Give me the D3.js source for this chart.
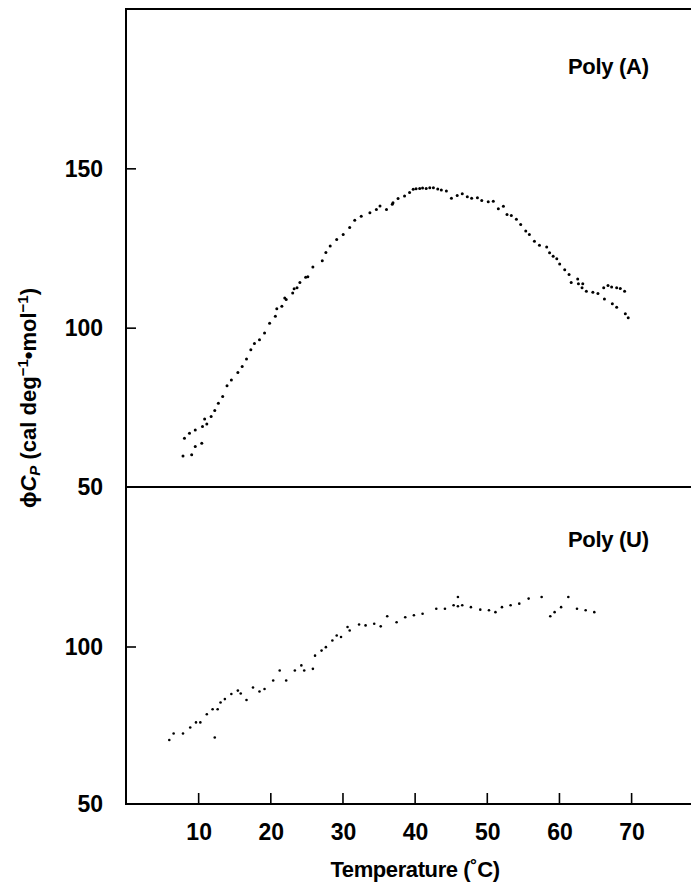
<!DOCTYPE html>
<html>
<head>
<meta charset="utf-8">
<script src="https://cdn.jsdelivr.net/npm/d3@7"></script>
<style>
  html, body { margin: 0; padding: 0; background: #fff; }
  svg text { font-family: "Liberation Sans", Arial, Helvetica, sans-serif; font-weight: bold; fill: #000; }
</style>
</head>
<body>
<svg id="chart" width="691" height="885"></svg>
<script>
// ---- data ----
const xTicks = [10, 20, 30, 40, 50, 60, 70];
const topTicks = [150, 100, 50];
const bottomTicks = [100, 50];
const topLabel = "Poly (A)";
const bottomLabel = "Poly (U)";
const xTitle = "Temperature (˚C)";

const polyA_T = [7.9, 8.1, 8.8, 9.1, 9.6, 9.6, 10.5, 10.6, 10.9, 11.2, 11.8, 12.3, 12.8, 13.4, 14.0, 14.6, 15.5, 16.1, 16.7, 17.3,
  17.8, 18.5, 19.2, 19.9, 20.7, 20.9, 21.6, 22.0, 22.2, 23.1, 23.3, 23.7, 24.1, 24.9, 25.2, 25.9, 27.2, 27.7, 28.3, 29.2,
  30.1, 31.0, 31.7, 32.6, 33.8, 34.7, 35.2, 36.1, 36.9, 37.0, 37.7, 38.6, 39.3, 39.8, 40.2, 40.7, 41.1, 41.6, 42.1, 42.6,
  43.2, 43.7, 44.4, 45.1, 45.9, 46.6, 47.3, 47.9, 48.7, 49.3, 50.2, 50.9, 51.6, 52.3, 52.8, 53.4, 54.1, 54.7, 55.4, 55.9,
  56.6, 57.3, 58.3, 58.7, 59.2, 59.7, 60.1, 60.8, 61.4, 61.7, 62.6, 62.7, 63.2, 63.3, 63.8, 64.7, 65.4, 66.2, 66.3, 66.8,
  67.3, 67.4, 68.0, 68.0, 68.5, 69.1, 69.2, 69.6];
const polyA_Cp = [59.7, 65.3, 66.9, 60.1, 62.7, 67.9, 63.7, 69.0, 71.3, 69.8, 72.1, 74.0, 76.3, 78.4, 81.8, 83.6, 85.9, 87.8, 90.2, 93.1,
  95.0, 96.2, 98.3, 101.4, 103.6, 105.9, 106.7, 109.3, 108.8, 110.9, 112.2, 112.5, 114.2, 115.8, 116.0, 119.0, 121.0, 123.6, 125.6, 127.7,
  129.2, 131.4, 133.7, 135.0, 136.1, 137.1, 138.2, 137.1, 138.7, 139.2, 140.5, 141.3, 142.4, 143.4, 143.6, 143.7, 143.8, 143.7, 143.9, 143.9,
  143.5, 143.2, 142.9, 140.6, 141.5, 142.0, 141.1, 140.6, 140.8, 139.9, 139.5, 139.7, 137.3, 138.1, 135.5, 135.2, 134.0, 132.4, 130.3, 129.2,
  127.1, 125.9, 125.3, 123.5, 122.4, 121.6, 120.0, 118.2, 116.7, 114.2, 115.3, 113.8, 112.5, 113.8, 111.4, 111.1, 110.7, 112.5, 109.0, 113.2,
  112.8, 107.5, 112.5, 106.4, 112.3, 111.4, 104.4, 103.1];

const polyU_T = [6.0, 6.6, 7.9, 8.9, 9.7, 10.3, 11.2, 12.0, 12.3, 12.7, 13.1, 13.7, 14.6, 15.5, 15.9, 16.7, 17.6, 18.5, 19.2, 20.4,
  21.3, 22.2, 23.4, 24.3, 24.7, 25.9, 26.2, 27.1, 27.7, 28.6, 29.2, 29.8, 30.7, 31.0, 32.3, 33.2, 34.4, 35.3, 36.2, 37.5,
  38.7, 39.9, 41.1, 43.0, 44.2, 45.4, 46.0, 46.0, 46.6, 47.8, 49.1, 50.3, 51.2, 52.1, 53.3, 54.5, 55.8, 57.6, 58.8, 59.4,
  60.3, 61.3, 62.5, 63.7, 64.9];
const polyU_Cp = [70.3, 72.4, 72.4, 74.3, 75.9, 75.9, 78.5, 80.1, 71.1, 80.1, 82.2, 83.3, 84.9, 86.0, 85.1, 83.0, 87.0, 85.7, 86.5, 89.2,
  92.4, 89.2, 92.4, 94.0, 92.4, 92.9, 97.1, 98.7, 99.8, 101.9, 103.5, 103.0, 106.2, 105.1, 107.0, 106.7, 107.2, 106.4, 109.6, 107.7,
  109.3, 109.9, 110.4, 112.0, 112.0, 113.1, 115.7, 112.8, 113.1, 112.5, 111.7, 111.5, 110.9, 112.5, 113.1, 113.6, 115.2, 115.7, 109.6, 110.9,
  112.5, 115.7, 112.0, 111.5, 110.9];

// ---- scales ----
const svg = d3.select("#chart");
const axisX = 126;
const x = d3.scaleLinear().domain([0, 78.3]).range([axisX, 691]);
const yTop = d3.scaleLinear().domain([50, 200]).range([487, 9]);
const yBot = d3.scaleLinear().domain([50, 150]).range([804, 489]);

const lineW = 2;
// frame lines
svg.append("line").attr("x1", axisX).attr("x2", 691).attr("y1", yTop(200)).attr("y2", yTop(200))
  .attr("stroke", "#000").attr("stroke-width", lineW);
svg.append("line").attr("x1", axisX).attr("x2", 691).attr("y1", yTop(50)).attr("y2", yTop(50))
  .attr("stroke", "#000").attr("stroke-width", lineW);
svg.append("line").attr("x1", axisX).attr("x2", 691).attr("y1", yBot(50)).attr("y2", yBot(50))
  .attr("stroke", "#000").attr("stroke-width", lineW);
svg.append("line").attr("x1", axisX).attr("x2", axisX).attr("y1", yTop(200) - 1).attr("y2", yBot(50) + 1)
  .attr("stroke", "#000").attr("stroke-width", lineW);

// y axes (ticks inward)
function yAxis(scale, ticks) {
  const g = svg.append("g").attr("transform", `translate(${axisX},0)`)
    .call(d3.axisRight(scale).tickValues(ticks).tickSize(10).tickFormat(""));
  g.select(".domain").remove();
  g.selectAll(".tick line").attr("stroke", "#000").attr("stroke-width", 1.6);
  ticks.forEach(t => {
    svg.append("text").attr("x", axisX - 23).attr("y", scale(t)).attr("dy", "0.36em")
      .attr("text-anchor", "end").style("font-size", "23px").text(t);
  });
}
yAxis(yTop, [150, 100]);
yAxis(yBot, [100]);
// shared 50 labels
svg.append("text").attr("x", axisX - 23).attr("y", yTop(50)).attr("dy", "0.36em")
  .attr("text-anchor", "end").style("font-size", "23px").text(topTicks[2]);
svg.append("text").attr("x", axisX - 23).attr("y", yBot(50)).attr("dy", "0.36em")
  .attr("text-anchor", "end").style("font-size", "23px").text(bottomTicks[1]);

// x axis (ticks upward)
const gx = svg.append("g").attr("transform", `translate(0,${yBot(50)})`)
  .call(d3.axisTop(x).tickValues(xTicks).tickSize(11).tickFormat(""));
gx.select(".domain").remove();
gx.selectAll(".tick line").attr("stroke", "#000").attr("stroke-width", 1.6);
xTicks.forEach(t => {
  svg.append("text").attr("x", x(t) + 1).attr("y", 840).attr("text-anchor", "middle")
    .style("font-size", "23px").text(t);
});

// x title
svg.append("text").attr("x", 415).attr("y", 877).attr("text-anchor", "middle")
  .style("font-size", "22px").style("letter-spacing", "-0.4px").text(xTitle);

// panel labels
svg.append("text").attr("x", 568).attr("y", 74).style("font-size", "22px").style("letter-spacing", "-0.3px").text(topLabel);
svg.append("text").attr("x", 568).attr("y", 547).style("font-size", "22px").style("letter-spacing", "-0.3px").text(bottomLabel);

// y title
const yt = svg.append("text").attr("transform", "translate(36,398) rotate(-90)")
  .attr("text-anchor", "middle").style("font-size", "22px");
yt.append("tspan").text("ϕ");
yt.append("tspan").style("font-style", "italic").text("C");
yt.append("tspan").style("font-style", "italic").style("font-size", "15px").attr("dy", 4).text("P");
yt.append("tspan").attr("dy", -4).text(" (cal deg");
yt.append("tspan").style("font-size", "15px").attr("dy", -8).text("−1");
yt.append("tspan").attr("dy", 8).text("•mol");
yt.append("tspan").style("font-size", "15px").attr("dy", -8).text("−1");
yt.append("tspan").attr("dy", 8).text(")");

// points
const topData = polyA_T.map((t, i) => ({ t, v: polyA_Cp[i] }));
const botData = polyU_T.map((t, i) => ({ t, v: polyU_Cp[i] }));
svg.append("g").selectAll("circle").data(topData).join("circle")
  .attr("cx", d => x(d.t)).attr("cy", d => yTop(d.v)).attr("r", 1.5).attr("fill", "#000");
svg.append("g").selectAll("circle").data(botData).join("circle")
  .attr("cx", d => x(d.t)).attr("cy", d => yBot(d.v)).attr("r", 1.3).attr("fill", "#000");
</script>
</body>
</html>
